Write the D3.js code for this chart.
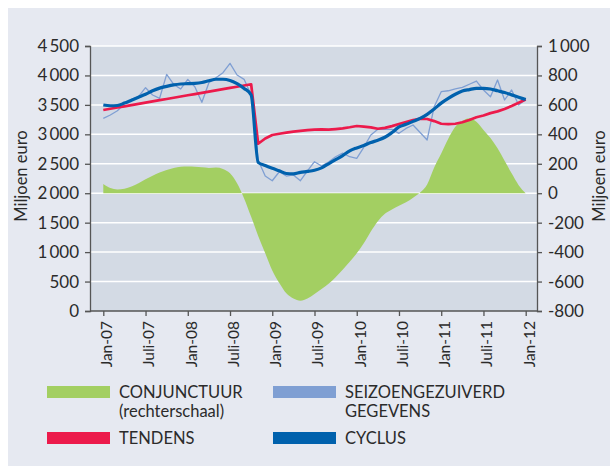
<!DOCTYPE html>
<html>
<head>
<meta charset="utf-8">
<script src="https://cdn.jsdelivr.net/npm/d3@7"></script>
<style>
  body { margin: 0; background: #fff; }
  svg text { font-family: Lato, "Open Sans", sans-serif; fill: #2b2b2b; }
</style>
</head>
<body>
<div id="chart"></div>
<script>
// maanden: 0 = jan-07 ... 60 = jan-12
const tickMonths = [0, 6, 12, 18, 24, 30, 36, 42, 48, 54, 60];
const tickLabels = ["Jan-07", "Juli-07", "Jan-08", "Juli-08", "Jan-09", "Juli-09",
                    "Jan-10", "Juli-10", "Jan-11", "Juli-11", "Jan-12"];
const leftTicks = [0, 500, 1000, 1500, 2000, 2500, 3000, 3500, 4000, 4500];
const rightTicks = [-800, -600, -400, -200, 0, 200, 400, 600, 800, 1000];

// seizoengezuiverde gegevens (linkerschaal)
const seizoen = [3272, 3328, 3400, 3520, 3595, 3639, 3792, 3668, 3612, 4019,
                 3849, 3770, 3934, 3809, 3544, 3877, 3962, 4047, 4206, 4007,
                 3934, 3668, 2560, 2292, 2212, 2365, 2292, 2310, 2212, 2380,
                 2535, 2462, 2530, 2620, 2680, 2620, 2593, 2780, 2988, 3085,
                 3085, 3085, 3017, 3100, 3158, 3030, 2904, 3469, 3724, 3740,
                 3770, 3798, 3850, 3905, 3753, 3639, 3922, 3583, 3753, 3498,
                 3595];

// tendens (linkerschaal)
const tendens = [3413, 3434, 3455, 3476, 3496, 3517, 3538, 3559, 3580, 3600,
                 3621, 3642, 3663, 3684, 3704, 3725, 3746, 3767, 3788, 3808,
                 3829, 3850, 2840, 2930, 2988, 3010, 3028, 3045, 3060, 3073,
                 3080, 3085, 3080, 3090, 3102, 3120, 3141, 3130, 3119, 3095,
                 3110, 3140, 3175, 3210, 3243, 3265, 3260, 3225, 3180, 3172,
                 3180, 3205, 3245, 3290, 3320, 3360, 3390, 3430, 3480, 3535,
                 3590];

// cyclus (linkerschaal)
const cyclus = [3498, 3485, 3490, 3530, 3580, 3630, 3680, 3740, 3785, 3815,
                3840, 3855, 3860, 3865, 3880, 3910, 3935, 3935, 3915, 3860,
                3780, 3668, 2525, 2470, 2423, 2380, 2335, 2330, 2355, 2370,
                2390, 2430, 2500, 2570, 2640, 2720, 2770, 2810, 2860, 2900,
                2950, 3030, 3125, 3170, 3220, 3270, 3340, 3430, 3530, 3610,
                3680, 3735, 3760, 3780, 3781, 3770, 3740, 3710, 3670, 3630,
                3590];

// conjunctuur (rechterschaal)
const conjunctuur = [62, 35, 26, 30, 45, 68, 95, 118, 140, 158,
                     172, 180, 182, 180, 176, 172, 174, 165, 135, 67,
                     -35, -160, -290, -408, -525, -610, -680, -715, -730, -715,
                     -685, -650, -615, -570, -520, -465, -408, -340, -260, -190,
                     -140, -110, -85, -62, -30, 5, 60, 175, 270, 370,
                     451, 490, 509, 485, 430, 375, 305, 220, 135, 55,
                     0];

const W = 610, H = 466;
const plot = { left: 90, right: 537, top: 46, bottom: 311 };

const svg = d3.select("#chart").append("svg")
    .attr("width", W)
    .attr("height", H);

// achtergrond
svg.append("rect")
    .attr("x", 8).attr("y", 8)
    .attr("width", W - 8).attr("height", H - 8)
    .attr("fill", "#e6e9f1");

svg.append("rect")
    .attr("x", plot.left).attr("y", plot.top)
    .attr("width", plot.right - plot.left).attr("height", plot.bottom - plot.top)
    .attr("fill", "#d3dae4");

// schalen
const x = d3.scaleLinear().domain([0, 60]).range([103.3, 525.7]);
const yL = d3.scaleLinear().domain([0, 4500]).range([plot.bottom, plot.top]);
const yR = d3.scaleLinear().domain([-800, 1000]).range([plot.bottom, plot.top]);

// rasterlijnen
svg.append("g").selectAll("line")
    .data(leftTicks.slice(1))
    .enter().append("line")
    .attr("x1", plot.left).attr("x2", plot.right)
    .attr("y1", d => yL(d)).attr("y2", d => yL(d))
    .attr("stroke", "#fff")
    .attr("stroke-width", 1.5);

// conjunctuur vlak
svg.append("path")
    .datum(conjunctuur)
    .attr("fill", "#a3cf62")
    .attr("d", d3.area()
        .x((d, i) => x(i))
        .y0(yR(0))
        .y1(d => yR(d))
        .curve(d3.curveMonotoneX));

const line = d3.line().x((d, i) => x(i)).y(d => yL(d));

svg.append("path")
    .datum(seizoen)
    .attr("fill", "none")
    .attr("stroke", "#7f9fd3")
    .attr("stroke-width", 1.3)
    .attr("stroke-linejoin", "round")
    .attr("d", line);

svg.append("path")
    .datum(tendens)
    .attr("fill", "none")
    .attr("stroke", "#ec1a4b")
    .attr("stroke-width", 2.7)
    .attr("stroke-linejoin", "round")
    .attr("d", line);

svg.append("path")
    .datum(cyclus)
    .attr("fill", "none")
    .attr("stroke", "#0061ad")
    .attr("stroke-width", 3.2)
    .attr("stroke-linejoin", "round")
    .attr("d", line.curve(d3.curveMonotoneX));

// assen
const axisColor = "#555";
const fmt = d => d3.format(",")(d).replace(",", "\u2009").replace("\u2212", "-");

const gLeft = svg.append("g")
    .attr("transform", `translate(${plot.left},0)`)
    .call(d3.axisLeft(yL).tickValues(leftTicks).tickSize(5).tickPadding(6).tickFormat(fmt));

const gRight = svg.append("g")
    .attr("transform", `translate(${plot.right},0)`)
    .call(d3.axisRight(yR).tickValues(rightTicks).tickSize(5).tickPadding(6).tickFormat(fmt));

const gBottom = svg.append("g")
    .attr("transform", `translate(0,${plot.bottom})`)
    .call(d3.axisBottom(x).tickValues(tickMonths).tickSize(5)
        .tickFormat((d, i) => tickLabels[i]));

[gLeft, gRight, gBottom].forEach(g => {
    g.attr("font-family", null);
    g.select(".domain").attr("stroke", axisColor).attr("stroke-width", 1.3);
    g.selectAll(".tick line").attr("stroke", axisColor).attr("stroke-width", 1.3);
    g.selectAll("text").style("font-size", "17px").attr("fill", "#2b2b2b");
});

gBottom.select(".domain").attr("d", `M${plot.left},0H${plot.right}`);

gBottom.selectAll(".tick text")
    .style("font-size", "15.5px")
    .attr("text-anchor", "end")
    .attr("transform", "translate(3,10) rotate(-90)")
    .attr("x", 0).attr("y", 0)
    .attr("dy", ".35em");

// astitels
svg.append("text")
    .attr("transform", "translate(27,176) rotate(-90)")
    .attr("text-anchor", "middle")
    .style("font-size", "16.5px")
    .text("Miljoen euro");

svg.append("text")
    .attr("transform", "translate(605,176) rotate(-90)")
    .attr("text-anchor", "middle")
    .style("font-size", "16.5px")
    .text("Miljoen euro");

// legenda
const legend = [
    { color: "#a3cf62", lines: ["CONJUNCTUUR", "(rechterschaal)"], x: 47, y: 386 },
    { color: "#7f9fd3", lines: ["SEIZOENGEZUIVERD", "GEGEVENS"], x: 273, y: 386 },
    { color: "#ec1a4b", lines: ["TENDENS"], x: 47, y: 432 },
    { color: "#0061ad", lines: ["CYCLUS"], x: 273, y: 432 }
];

const lg = svg.selectAll(".legend")
    .data(legend)
    .enter().append("g")
    .attr("class", "legend")
    .attr("transform", d => `translate(${d.x},${d.y})`);

lg.append("rect")
    .attr("width", 63)
    .attr("height", 12)
    .attr("fill", d => d.color);

lg.each(function(d) {
    const t = d3.select(this).append("text")
        .attr("x", 72)
        .attr("y", 12)
        .style("font-size", "16.5px");
    d.lines.forEach((s, i) => {
        t.append("tspan").attr("x", 72).attr("dy", i === 0 ? 0 : 19).text(s);
    });
});
</script>
</body>
</html>
